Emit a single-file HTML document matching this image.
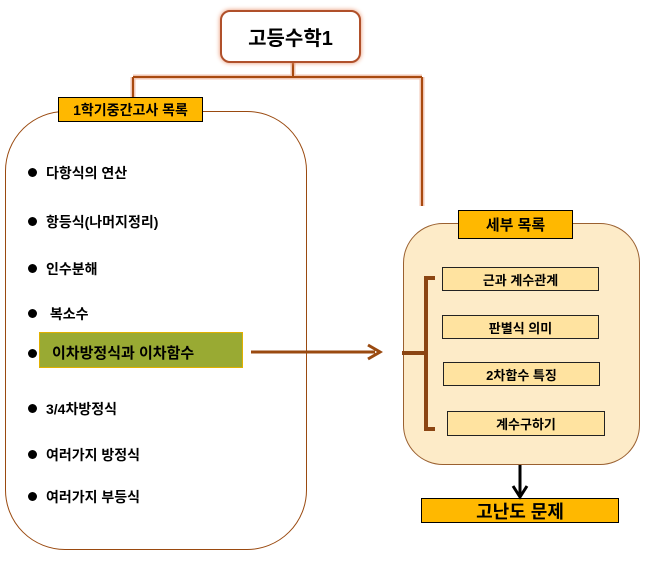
<!DOCTYPE html>
<html><head><meta charset="utf-8"><style>
body{margin:0;width:649px;height:561px;background:#fff;position:relative;overflow:hidden;font-family:"Liberation Sans","Noto Sans CJK KR","NanumGothic",sans-serif;font-weight:bold;color:#000}
.a{position:absolute;box-sizing:border-box}
.lbl{background:#ffb800;border:1.5px solid #000;display:flex;align-items:center;justify-content:center;font-size:14px}
.in{background:#ffe3a0;border:1.5px solid #222;display:flex;align-items:center;justify-content:center;font-size:13px}
.it{position:absolute;font-size:14px;left:32px}
.it:before{content:"";position:absolute;left:-4px;top:5px;width:9px;height:9px;border-radius:50%;background:#000}
.it span{margin-left:14px}
</style></head><body>
<svg class="a" style="left:0;top:0" width="649" height="561">
<g stroke="#e8a080" stroke-width="5" fill="none" opacity="0.6"><path d="M293 63V77M133 77H422M133 77V97M422 77V206"/></g>
<g stroke="#a84a10" stroke-width="2" fill="none"><path d="M293 63V77M133 77H422M133 77V97M422 77V206"/></g>
</svg>
<div class="a" style="left:220px;top:10px;width:141px;height:53px;border:2px solid #b0502a;border-radius:10px;background:#fff;box-shadow:0 0 5px #e8906a;display:flex;align-items:center;justify-content:center;font-size:20px">고등수학1</div>
<div class="a" style="left:5px;top:111px;width:302px;height:439px;border:1.5px solid #9a4a10;border-radius:60px;background:#fff"></div>
<div class="a lbl" style="left:58px;top:97px;width:145px;height:25px">1학기중간고사 목록</div>
<div class="it" style="top:163px"><span>다항식의 연산</span></div>
<div class="it" style="top:212px"><span>항등식(나머지정리)</span></div>
<div class="it" style="top:259px"><span> 인수분해</span></div>
<div class="it" style="top:304px"><span>&nbsp;복소수</span></div>
<div class="it" style="top:344px"></div>
<div class="a" style="left:39px;top:332px;width:204px;height:36px;background:#99aa33;border:1.5px solid #e0b000;font-size:15px;padding:9px 0 0 12px">이차방정식과 이차함수</div>
<div class="it" style="top:399px"><span>3/4차방정식</span></div>
<div class="it" style="top:445px"><span>여러가지 방정식</span></div>
<div class="it" style="top:487px"><span>여러가지 부등식</span></div>
<div class="a" style="left:403px;top:223px;width:237px;height:242px;border:1.5px solid #9a6030;border-radius:40px;background:#fdebc8"></div>
<div class="a lbl" style="left:458px;top:210px;width:115px;height:29px;font-size:15px">세부 목록</div>
<div class="a in" style="left:442px;top:267px;width:157px;height:24px">근과 계수관계</div>
<div class="a in" style="left:442px;top:315px;width:157px;height:24px">판별식 의미</div>
<div class="a in" style="left:443px;top:362px;width:157px;height:24px">2차함수 특징</div>
<div class="a in" style="left:447px;top:411px;width:158px;height:25px">계수구하기</div>
<div class="a lbl" style="left:421px;top:498px;width:198px;height:25px;font-size:18px">고난도 문제</div>
<svg class="a" style="left:0;top:0" width="649" height="561">
<path d="M251 352H375" stroke="#9a4a10" stroke-width="3"/>
<path d="M368 345L380 352L368 359" stroke="#9a4a10" stroke-width="3" fill="none"/>
<path d="M435 278H426V429H435M402 353H426" stroke="#8b4513" stroke-width="4" fill="none"/>
<path d="M520 465V494" stroke="#000" stroke-width="3"/>
<path d="M513 486L520 497L527 486" stroke="#000" stroke-width="3" fill="none"/>
</svg>
</body></html>
